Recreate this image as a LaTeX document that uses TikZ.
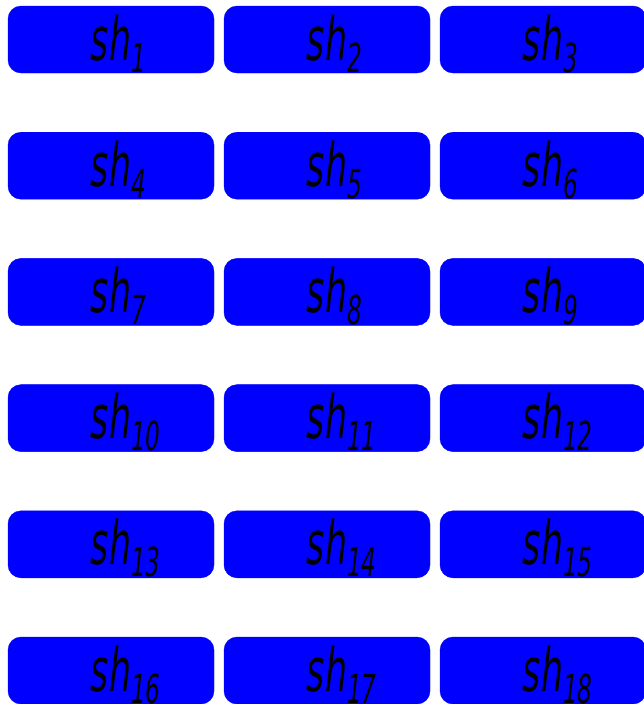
\documentclass[tikz,border=0pt]{standalone}
\usepackage{fontspec}
\setmainfont{DejaVu Sans}
\usepackage{graphicx}
\newcommand{\shlab}[1]{\scalebox{0.58}[1]{\itshape sh\rlap{\raisebox{-12pt}{\fontsize{40}{40}\selectfont #1}}}}

\begin{document}
\begin{tikzpicture}[x=1pt, y=-1pt, every node/.style={fill=blue, draw=blue, rounded corners=13pt, minimum width=206pt, minimum height=67pt, inner sep=0pt, text height=41pt, text depth=0pt, font=\fontsize{60}{60}\selectfont}]
\useasboundingbox (0,0) rectangle (643,704);
\foreach \r in {0,...,5}
  \foreach \c in {0,1,2} {
    \pgfmathtruncatemacro{\n}{3*\r+\c+1}
    \node (sh\n) at (111+216*\c, 39.5+126.2*\r) {\shlab{\n}};
  }
\end{tikzpicture}
\end{document}
